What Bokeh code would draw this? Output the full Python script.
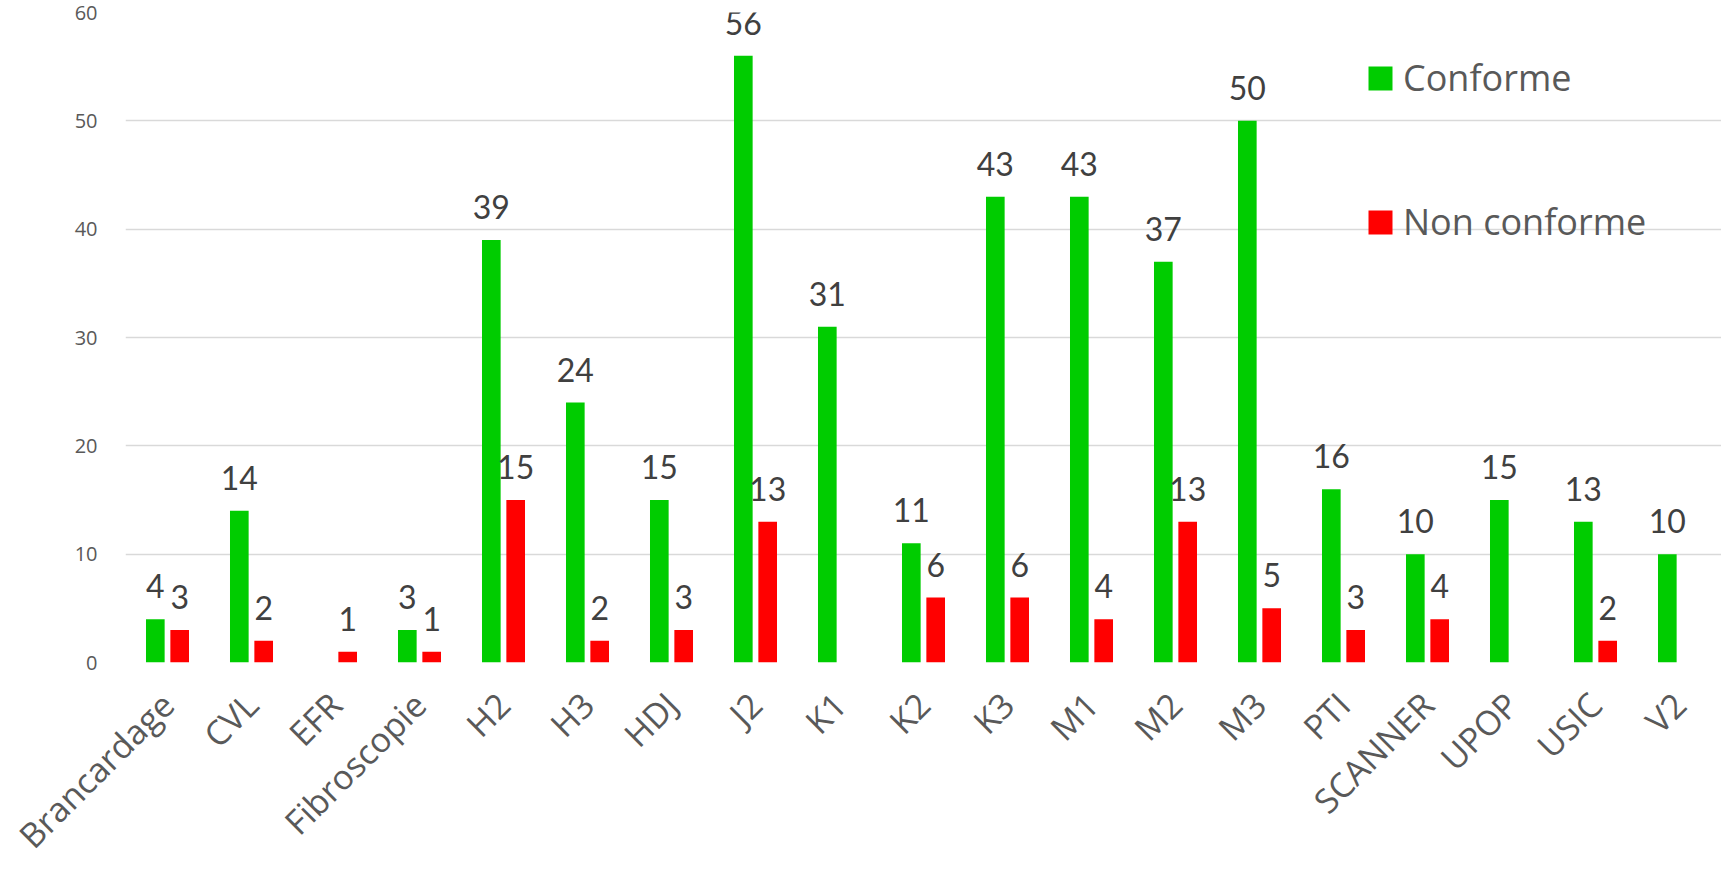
import math
from bokeh.plotting import figure
from bokeh.models import ColumnDataSource, FactorRange, Range1d, Legend, LegendItem
from bokeh.transform import dodge
from bokeh.core.properties import value
from bokeh.embed import file_html
from bokeh.resources import INLINE

categories = ["Brancardage", "CVL", "EFR", "Fibroscopie", "H2", "H3", "HDJ", "J2", "K1", "K2",
              "K3", "M1", "M2", "M3", "PTI", "SCANNER", "UPOP", "USIC", "V2"]
conforme = [4, 14, 0, 3, 39, 24, 15, 56, 31, 11, 43, 43, 37, 50, 16, 10, 15, 13, 10]
non_conforme = [3, 2, 1, 1, 15, 2, 3, 13, 0, 6, 6, 4, 13, 5, 3, 4, 0, 2, 0]
y_ticks = [0, 10, 20, 30, 40, 50, 60]
series_names = ["Conforme", "Non conforme"]

GREEN = "#00CC00"
RED = "#FF0000"
TICK_COLOR = "#595959"
LABEL_COLOR = "#404040"
GRID_COLOR = "#d9d9d9"


def src(vals):
    keep = [(c, v) for c, v in zip(categories, vals) if v > 0]
    return ColumnDataSource(dict(cat=[c for c, _ in keep],
                                 val=[v for _, v in keep],
                                 lab=[str(v) for _, v in keep]))


g_src = src(conforme)
r_src = src(non_conforme)

p = figure(x_range=FactorRange(factors=categories, range_padding=0),
           y_range=Range1d(0, 60),
           width=1721, height=876,
           output_backend="svg", toolbar_location=None,
           min_border_left=125, min_border_right=0,
           min_border_top=12, min_border_bottom=213)

p.outline_line_color = None
p.background_fill_color = "white"
p.border_fill_color = "white"

OFF = 0.145
W = 0.222
g_bar = p.vbar(x=dodge("cat", -OFF, range=p.x_range), top="val", width=W, bottom=0,
               source=g_src, fill_color=GREEN, line_color=None)
r_bar = p.vbar(x=dodge("cat", OFF, range=p.x_range), top="val", width=W, bottom=0,
               source=r_src, fill_color=RED, line_color=None)

for s, off in ((g_src, -OFF), (r_src, OFF)):
    p.text(x=dodge("cat", off, range=p.x_range), y="val", text="lab", source=s,
           text_align="center", text_baseline="alphabetic", y_offset=-33,
           text_font=value("Lato"), text_font_size="32px", text_color=LABEL_COLOR)

# axes
p.yaxis.ticker = y_ticks
p.yaxis.axis_line_color = None
p.yaxis.major_tick_line_color = None
p.yaxis.minor_tick_line_color = None
p.yaxis.major_label_text_font = "Open Sans"
p.yaxis.major_label_text_font_size = "20px"
p.yaxis.major_label_text_color = TICK_COLOR
p.yaxis.major_label_standoff = 22

p.xaxis.axis_line_color = None
p.xaxis.major_tick_line_color = None
p.xaxis.minor_tick_line_color = None
p.xaxis.major_label_orientation = math.pi / 4
p.xaxis.major_label_text_font = "Open Sans"
p.xaxis.major_label_text_font_size = "34px"
p.xaxis.major_label_text_color = TICK_COLOR
p.xaxis.major_label_standoff = 30

p.xgrid.grid_line_color = None
p.ygrid.ticker = y_ticks
p.ygrid.grid_line_color = GRID_COLOR
p.ygrid.grid_line_width = 1.3

legend = Legend(items=[LegendItem(label=series_names[0], renderers=[g_bar]),
                       LegendItem(label=series_names[1], renderers=[r_bar])],
                location=(1240, 416), orientation="vertical",
                glyph_width=30, glyph_height=30, label_height=48, spacing=95,
                label_standoff=8, padding=0, margin=0,
                border_line_color=None, background_fill_alpha=0,
                label_text_font="Open Sans", label_text_font_size="36px",
                label_text_color=TICK_COLOR)
p.add_layout(legend)

open("out.html", "w").write(file_html(p, INLINE))
